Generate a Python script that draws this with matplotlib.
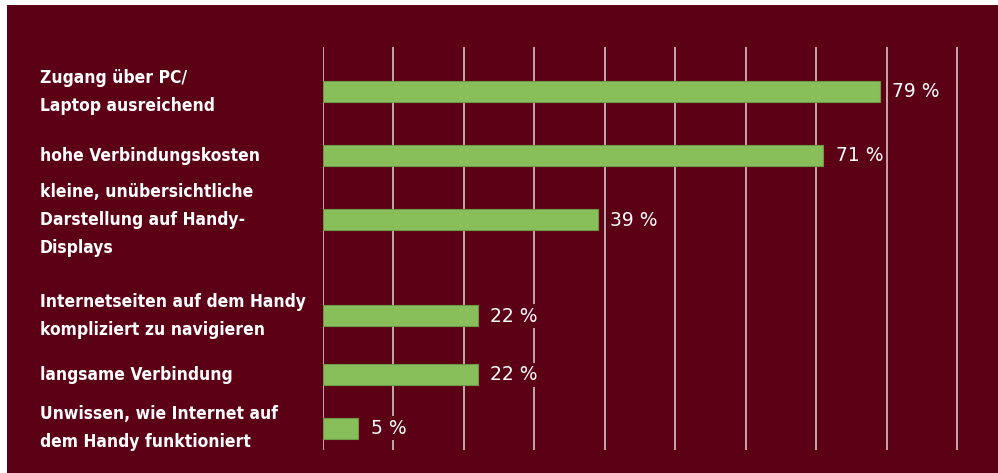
import matplotlib
matplotlib.use("Agg")
import matplotlib.pyplot as plt
from matplotlib.patches import Rectangle
from matplotlib.transforms import blended_transform_factory

# data
labels = [
    "Zugang über PC/\nLaptop ausreichend",
    "hohe Verbindungskosten",
    "kleine, unübersichtliche\nDarstellung auf Handy-\nDisplays",
    "Internetseiten auf dem Handy\nkompliziert zu navigieren",
    "langsame Verbindung",
    "Unwissen, wie Internet auf\ndem Handy funktioniert",
]
values = [79, 71, 39, 22, 22, 5]
value_labels = ["79 %", "71 %", "39 %", "22 %", "22 %", "5 %"]
grid_ticks = [0, 10, 20, 30, 40, 50, 60, 70, 80, 90]

# layout (row centres in pixel rows of the original, top to bottom)
row_pos = [92, 156, 220, 316, 375, 428]

W, H = 998, 473
bg = "#5c0015"
bar_col = "#88bf5b"
grid_col = "#c9b5ba"

fig = plt.figure(figsize=(W / 100, H / 100), dpi=100)
fig.patch.set_facecolor(bg)
# white strips at the top and left edge
fig.patches.append(Rectangle((0, 0), 7 / W, 1, transform=fig.transFigure,
                             facecolor="white", edgecolor="none", zorder=-1))
fig.patches.append(Rectangle((0, (H - 5) / H), 1, 5 / H, transform=fig.transFigure,
                             facecolor="white", edgecolor="none", zorder=-1))

px_per_pct = 7.045
left_px, top_px, bot_px = 323, 47, 450
right_px = left_px + 95 * px_per_pct
ax = fig.add_axes([left_px / W, 1 - bot_px / H, (right_px - left_px) / W, (bot_px - top_px) / H])
ax.set_facecolor("none")
ax.set_xlim(0, 95)
ax.set_ylim(bot_px, top_px)
for s in ax.spines.values():
    s.set_visible(False)
ax.set_xticks([])
ax.set_yticks([])

for g in grid_ticks:
    ax.axvline(g, color=grid_col, lw=1.3, zorder=1)

ax.barh(row_pos, values, height=21, color=bar_col, edgecolor="#6f9a45", linewidth=0.8, zorder=2)

for y, v, t in zip(row_pos, values, value_labels):
    ax.annotate(t, (v, y), xytext=(9, 0), textcoords="offset points", va="center", ha="left",
                color="white", fontsize=13.5, family=["DejaVu Sans"],
                bbox=dict(boxstyle="square,pad=0.15", fc=bg, ec="none"), zorder=3)

tr = blended_transform_factory(fig.transFigure, ax.transData)
for y, lab in zip(row_pos, labels):
    ax.text(40 / W, y, lab, transform=tr, ha="left", va="center", color="white",
            fontsize=12.5, fontweight="bold", fontstretch="condensed",
            family=["DejaVu Sans"], linespacing=1.72)

fig.savefig("out.png", dpi=100, facecolor=fig.get_facecolor())
